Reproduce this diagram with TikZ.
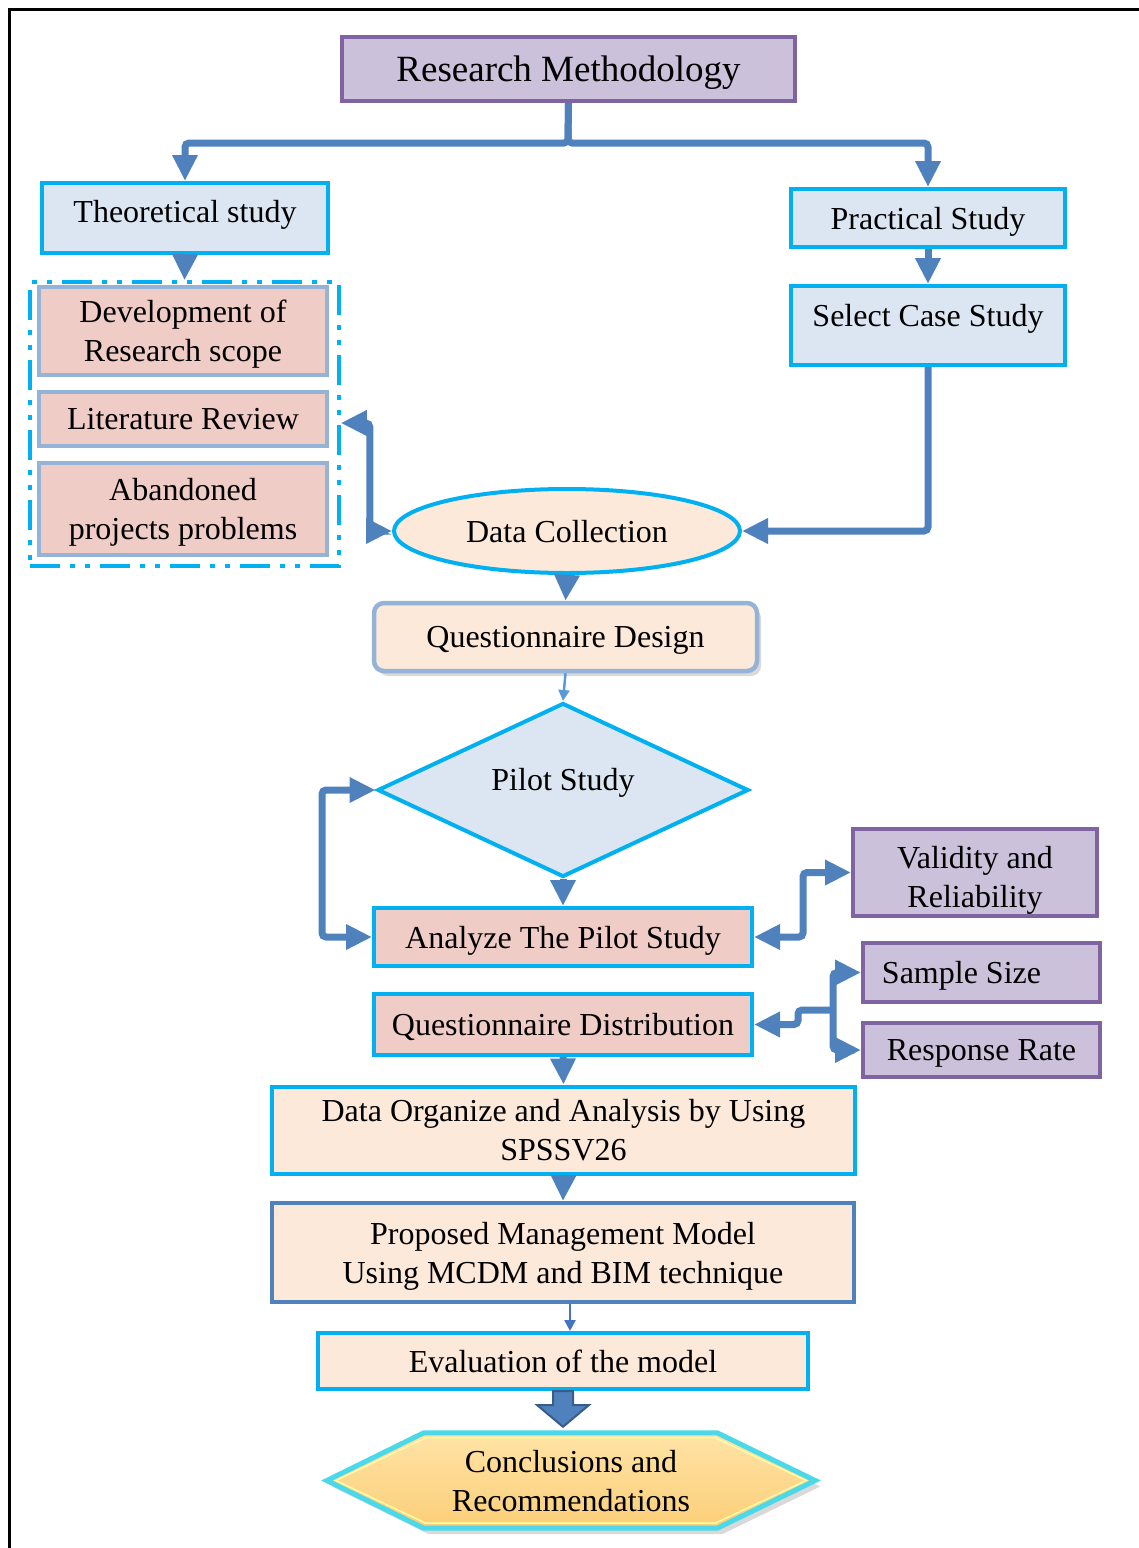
\documentclass[tikz,border=0pt]{standalone}
\usepackage{fontspec}
\setmainfont{Liberation Serif}
\usetikzlibrary{arrows.meta,shapes.geometric,backgrounds,shadows,calc}
\definecolor{conn}{HTML}{4F81BD}
\definecolor{cyanb}{HTML}{00B0F0}
\definecolor{pinkf}{HTML}{F0CCC6}
\definecolor{lavf}{HTML}{CCC1DA}
\definecolor{lavd}{HTML}{8064A2}
\definecolor{lbluef}{HTML}{DCE6F2}
\definecolor{peach}{HTML}{FDE9D9}
\definecolor{softb}{HTML}{95B3D7}
\definecolor{thinb}{HTML}{5B9BD5}
\definecolor{thinc}{HTML}{4472C4}
\definecolor{blkd}{HTML}{385D8A}
\definecolor{hexb}{HTML}{4BD8E8}
\definecolor{hextop}{HTML}{FFE3A6}
\definecolor{hexbot}{HTML}{FBCF78}
\begin{document}
\begin{tikzpicture}[x=1pt,y=-1pt,
  every node/.style={font=\fontsize{32}{39}\selectfont, inner sep=0pt, align=center, text depth=0pt},
  conn/.style={draw=conn, line width=7pt, rounded corners=4pt, -{Triangle[length=26pt,width=24pt]}},
  dbl/.style={draw=conn, line width=7pt, rounded corners=4pt, {Triangle[length=26pt,width=24pt]}-{Triangle[length=26pt,width=24pt]}},
  thinarr/.style={line width=2.5pt, -{Triangle[length=11pt,width=11pt]}},
  cbox/.style={rectangle, draw=cyanb, line width=4pt},
  pbox/.style={rectangle, draw=softb, line width=4.5pt, fill=pinkf},
  lbox/.style={rectangle, draw=lavd, line width=4pt, fill=lavf},
]
\useasboundingbox (0,0) rectangle (1139,1548);
% outer frame
\draw[line width=3pt, black] (1139,9) -- (9,9) -- (9,1548);

% nodes
\node[lbox, minimum width=453, minimum height=64, font=\fontsize{37}{44}\selectfont] (title) at (568.5,69) {Research Methodology};
\node[cbox, fill=lbluef, minimum width=286, minimum height=70,
      label={[yshift=7pt]center:Theoretical study}] (theo) at (185,218) {};
\node[cbox, fill=lbluef, minimum width=274, minimum height=58] (prac) at (928,218) {Practical Study};
\node[cbox, fill=lbluef, minimum width=274, minimum height=79,
      label={[yshift=10pt]center:Select Case Study}] (sel) at (928,325.5) {};

\node[rectangle, draw=cyanb, line width=3.5pt,
      dash pattern=on 30pt off 10pt on 5pt off 10pt on 5pt off 10pt,
      minimum width=309, minimum height=284] (grp) at (184.5,424) {};
\node[pbox, minimum width=288, minimum height=88] (dev) at (183,331) {Development of\\Research scope};
\node[pbox, minimum width=288, minimum height=54] (lit) at (183,419) {Literature Review};
\node[pbox, minimum width=288, minimum height=92] (aband) at (183,509) {Abandoned\\projects problems};

\node[ellipse, draw=cyanb, line width=4pt, fill=peach, minimum width=346, minimum height=84] (dc) at (567,531) {Data Collection};
\node[rectangle, rounded corners=10pt, draw=softb, line width=4.5pt, fill=peach,
      minimum width=383, minimum height=68,
      drop shadow={shadow xshift=4pt, shadow yshift=-5pt, fill=black, opacity=0.15}] (qd) at (565.5,637) {Questionnaire Design};
\node[diamond, draw=cyanb, line width=4pt, fill=lbluef, aspect=2.13, minimum width=371, minimum height=174] (pilot) at (563,790) {};
\node at ($(pilot.center)+(0,-11)$) {Pilot Study};

\node[cbox, fill=pinkf, minimum width=378, minimum height=58] (ana) at (563,937) {Analyze The Pilot Study};
\node[lbox, minimum width=244, minimum height=87,
      label={[yshift=-4pt]center:Validity and\\Reliability}] (val) at (975,872.5) {};
\node[cbox, fill=pinkf, minimum width=378, minimum height=61] (qdist) at (563,1024.5) {Questionnaire Distribution};
\node[lbox, minimum width=237, minimum height=59,
      label={[xshift=-20pt]center:Sample Size}] (ss) at (981.5,972.5) {};
\node[lbox, minimum width=237, minimum height=54] (rr) at (981.5,1050) {Response Rate};

\node[cbox, fill=peach, minimum width=583, minimum height=87] (dorg) at (563.5,1130) {Data Organize and Analysis by Using\\SPSSV26};
\node[rectangle, draw=conn, line width=4pt, fill=peach, minimum width=582, minimum height=99] (prop) at (563,1252.5) {Proposed Management Model\\Using MCDM and BIM technique};
\node[cbox, fill=peach, minimum width=490, minimum height=56] (eval) at (563,1361) {Evaluation of the model};

\node[minimum width=488, minimum height=95] (concl) at (571,1480.5) {Conclusions and\\Recommendations};
\begin{scope}[on background layer]
  \fill[black, opacity=0.15]
    ($(concl.west)+(5,6)$) -- ($(concl.north west)+(102,6)$) -- ($(concl.north east)+(-93,6)$)
    -- ($(concl.east)+(5,6)$) -- ($(concl.south east)+(-93,6)$) -- ($(concl.south west)+(102,6)$) -- cycle;
  \shade[top color=hextop, bottom color=hexbot]
    (concl.west) -- ($(concl.north west)+(97,0)$) -- ($(concl.north east)+(-98,0)$)
    -- (concl.east) -- ($(concl.south east)+(-98,0)$) -- ($(concl.south west)+(97,0)$) -- cycle;
  \draw[draw=hexb, line width=5pt, line join=miter]
    (concl.west) -- ($(concl.north west)+(97,0)$) -- ($(concl.north east)+(-98,0)$)
    -- (concl.east) -- ($(concl.south east)+(-98,0)$) -- ($(concl.south west)+(97,0)$) -- cycle;
  \draw[draw=yellow!35!white, line width=1.5pt, line join=miter]
    ($(concl.west)+(9,0)$) -- ($(concl.north west)+(99,5)$) -- ($(concl.north east)+(-100,5)$)
    -- ($(concl.east)+(-9,0)$) -- ($(concl.south east)+(-100,-5)$) -- ($(concl.south west)+(99,-5)$) -- cycle;
\end{scope}

% connectors
\coordinate (split) at (568,143);
\draw[conn] (title.south) -- (split) -| (theo.north);
\draw[conn] (title.south) -- (split) -| (prac.north);
\draw[conn] (theo.south) -- (grp.north);
\draw[conn] (prac.south) -- (sel.north);
\draw[conn] (sel.south) |- (dc.east);
\draw[dbl] ($(lit.east -| grp.east)+(0,4)$) -- ++(29,0) |- (dc.west);
\draw[conn] (dc.south) -- (qd.north);
\draw[thinarr, draw=thinb] (qd.south) -- (pilot.north);
\draw[conn] (pilot.south) -- (ana.north);
\draw[dbl] (ana.west) -- ++(-50,0) |- (pilot.west);
\draw[dbl] (ana.east) -- ++(49,0) |- (val.west);
\coordinate (junc) at (833,1010);
\draw[conn, {Triangle[length=26pt,width=24pt]}-] (qdist.east) -- ++(44,0) |- (junc);
\draw[conn] (junc) |- (ss.west);
\draw[conn] (junc) |- (rr.west);
\draw[conn] (qdist.south) -- (dorg.north);
\draw[conn] (dorg.south) -- (prop.north);
\draw[thinarr, draw=thinc] ($(prop.south)+(7,0)$) -- ($(prop.south |- eval.north)+(7,0)$);
% block arrow
\filldraw[fill=conn, draw=blkd, line width=2pt, line join=miter]
  ($(eval.south)+(-10,0)$) -- ($(eval.south)+(-10,14)$) -- ($(eval.south)+(-26,14)$)
  -- ($(eval.south |- concl.north)+(0,-6)$)
  -- ($(eval.south)+(26,14)$) -- ($(eval.south)+(10,14)$) -- ($(eval.south)+(10,0)$) -- cycle;
\end{tikzpicture}
\end{document}
